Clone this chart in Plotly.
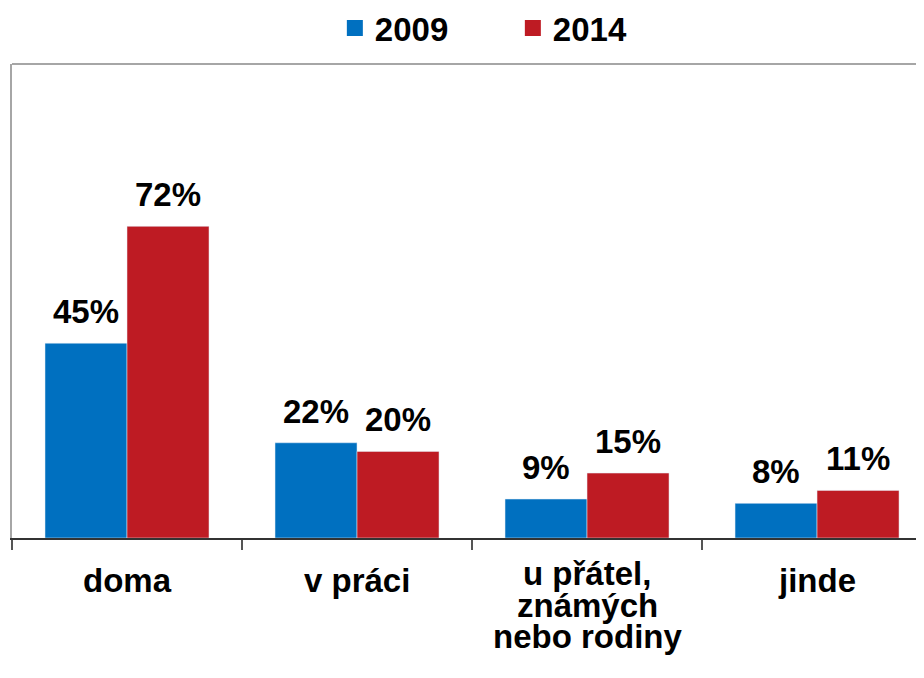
import plotly.graph_objects as go

categories = ["doma", "v práci", "u přátel,\nznámých\nnebo rodiny", "jinde"]
values_2009 = [45, 22, 9, 8]
values_2014 = [72, 20, 15, 11]
series_names = ["2009", "2014"]
colors = ["#0070C0", "#BE1B23"]

FONT = "Arial, Liberation Sans, sans-serif"
FS = 33
BARGAP = 0.287

# page body has an 8px margin; compensate so the chart sits like the reference
PAGE_OFF = 8

fig = go.Figure()
series = [values_2009, values_2014]
for name, vals, col in zip(series_names, series, colors):
    fig.add_trace(go.Bar(
        x=categories, y=vals, name=name, marker_color=col,
        showlegend=False, hoverinfo="x+y",
    ))
    fig.add_trace(go.Scatter(
        x=[None], y=[None], mode="markers", name=name,
        marker=dict(symbol="square", size=16, color=col),
        showlegend=True,
    ))

annotations = []
# data labels above bars
n_series = len(series)
bar_w = (1 - BARGAP) / n_series
for s, vals in enumerate(series):
    off = -(1 - BARGAP) / 2 + bar_w * (s + 0.5)
    for i, v in enumerate(vals):
        annotations.append(dict(
            x=i + off, xref="x", y=v, yref="y", yanchor="bottom", xanchor="center",
            yshift=11, text=f"<b>{v}%</b>", showarrow=False,
            font=dict(family=FONT, size=FS, color="black"),
        ))

# category labels, one annotation per line for tight line spacing
for cat in categories:
    lines = cat.split("\n")
    n = len(lines)
    base = 591 - (n - 1) * 3.5
    for k, line in enumerate(lines):
        baseline = base + k * 31.5
        top = baseline - 31
        annotations.append(dict(
            x=cat, xref="x", y=0, yref="paper", yanchor="top", xanchor="center",
            yshift=-(top - 538), text=f"<b>{line}</b>", showarrow=False,
            font=dict(family=FONT, size=FS, color="black"),
        ))

fig.update_layout(
    width=924 - PAGE_OFF, height=678 - PAGE_OFF,
    margin=dict(l=12 - PAGE_OFF, r=0, t=64 - PAGE_OFF, b=140, autoexpand=False),
    paper_bgcolor="white", plot_bgcolor="white",
    barmode="group", bargap=BARGAP, bargroupgap=0,
    font=dict(family=FONT, size=FS, color="black"),
    showlegend=True,
    legend=dict(
        orientation="h", x=0.354, xanchor="left", y=1.076, yanchor="middle",
        font=dict(family=FONT, size=FS, color="black", weight="bold"),
        entrywidth=133, itemclick=False, bgcolor="rgba(0,0,0,0)",
    ),
    xaxis=dict(
        range=[-0.5, 3.465], showticklabels=False, tickson="boundaries",
        ticks="outside", ticklen=10, tickcolor="#555555", tickwidth=2,
        showline=True, linecolor="#333333", linewidth=1.5,
        showgrid=False, zeroline=False, fixedrange=True,
    ),
    yaxis=dict(
        range=[0, 109.5], showticklabels=False, ticks="", showgrid=False,
        zeroline=False, showline=True, linecolor="#A6A6A6", linewidth=2,
        fixedrange=True,
    ),
    annotations=annotations,
    shapes=[dict(type="line", xref="paper", yref="paper", x0=0, x1=1, y0=1, y1=1,
                 line=dict(color="#A6A6A6", width=2))],
)

fig.write_html("out.html")
